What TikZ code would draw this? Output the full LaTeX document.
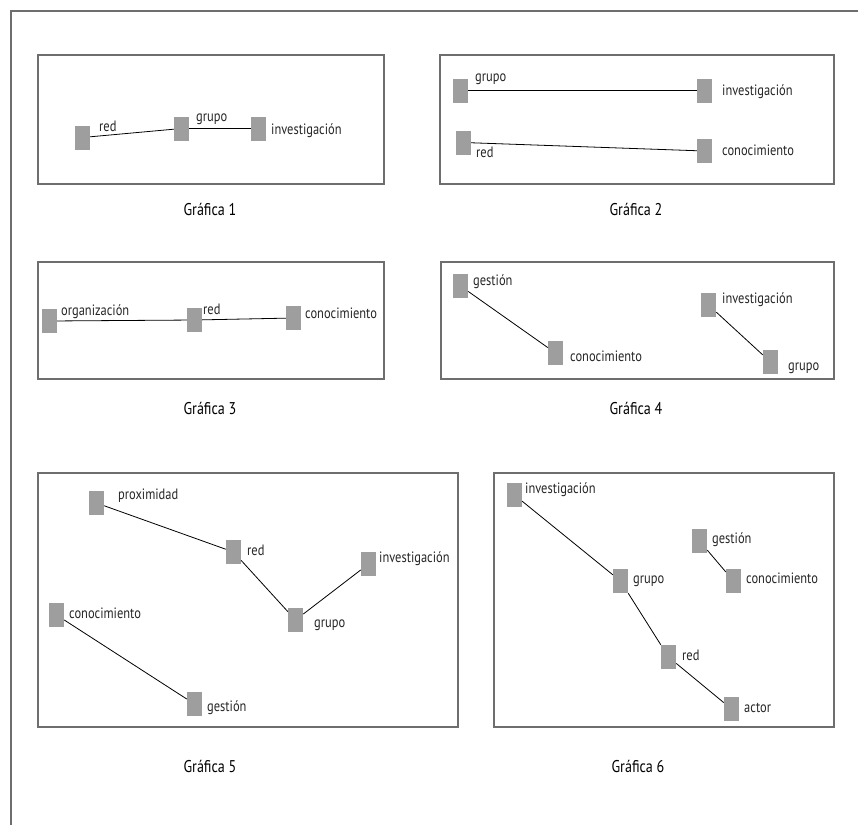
\documentclass[tikz,border=0pt]{standalone}
\usepackage{fontspec}
\setmainfont{PT Sans}[FakeStretch=0.83]
\definecolor{boxgray}{HTML}{6E6E6E}
\definecolor{sqgray}{HTML}{9E9E9E}
\definecolor{txtgray}{HTML}{262626}
\begin{document}
\begin{tikzpicture}[x=1pt,y=-1pt,
  sq/.style={fill=sqgray,minimum width=15pt,minimum height=24pt,inner sep=0pt},
  lbl/.style={anchor=base west,inner sep=0pt,text=txtgray,font=\fontsize{15}{15}\selectfont},
  caption/.style={anchor=base,inner sep=0pt,font=\fontsize{17}{17}\selectfont},
  gbox/.style={draw=boxgray,line width=1.3pt},
  link/.style={draw=black,line width=0.8pt}]
\useasboundingbox (0,0) rectangle (858,825);
\draw [boxgray,line width=1.8pt] (11,825) -- (11,11) -- (858,11);

% grafica 1
\draw [gbox] (38,55) rectangle (384,184);
\node [sq] (g1red) at (82.5,137.5) {};
\node [sq] (g1grupo) at (181.5,128.5) {};
\node [sq] (g1inv) at (258.5,128.5) {};
\node [lbl] (t1red) at (99,131) {red};
\node [lbl] (t1grupo) at (196,121) {grupo};
\node [lbl] (t1inv) at (271,134) {investigación};
\draw [link] (g1red) -- (g1grupo) -- (g1inv);
\node [caption] (c1) at (210,215) {Gráfica 1};

% grafica 2
\draw [gbox] (440,55) rectangle (834,184);
\node [sq] (g2grupo) at (460.5,90.5) {};
\node [sq] (g2inv) at (704.5,90.5) {};
\node [sq] (g2red) at (463.5,142.5) {};
\node [sq] (g2con) at (704.5,151) {};
\node [lbl] (t2grupo) at (475,81) {grupo};
\node [lbl] (t2inv) at (722,95) {investigación};
\node [lbl] (t2red) at (476,157) {red};
\node [lbl] (t2con) at (722,155) {conocimiento};
\draw [link] (g2grupo) -- (g2inv);
\draw [link] (g2red) -- (g2con);
\node [caption] (c2) at (636,215) {Gráfica 2};

% grafica 3
\draw [gbox] (38,262) rectangle (384,379);
\node [sq] (g3org) at (49.5,321) {};
\node [sq] (g3red) at (194.5,320) {};
\node [sq] (g3con) at (293.5,318) {};
\node [lbl] (t3org) at (61,315) {organización};
\node [lbl] (t3red) at (203,314) {red};
\node [lbl] (t3con) at (305,318) {conocimiento};
\draw [link] (g3org) -- (g3red) -- (g3con);
\node [caption] (c3) at (210,414) {Gráfica 3};

% grafica 4
\draw [gbox] (441,262) rectangle (834,379);
\node [sq] (g4ges) at (460.5,286) {};
\node [sq] (g4con) at (555.5,353) {};
\node [sq] (g4inv) at (708.5,305) {};
\node [sq] (g4grupo) at (770.5,362) {};
\node [lbl] (t4ges) at (473,285) {gestión};
\node [lbl] (t4con) at (570,361) {conocimiento};
\node [lbl] (t4inv) at (722,303) {investigación};
\node [lbl] (t4grupo) at (788,370) {grupo};
\draw [link] (g4ges) -- (g4con);
\draw [link] (g4inv) -- (g4grupo);
\node [caption] (c4) at (636,414) {Gráfica 4};

% grafica 5
\draw [gbox] (38,473) rectangle (458,727);
\node [sq] (g5prox) at (96.5,503) {};
\node [sq] (g5red) at (233.5,552) {};
\node [sq] (g5inv) at (368.5,564) {};
\node [sq] (g5con) at (56.5,615) {};
\node [sq] (g5grupo) at (295.5,620) {};
\node [sq] (g5ges) at (194.5,704) {};
\node [lbl] (t5prox) at (118,499) {proximidad};
\node [lbl] (t5red) at (247,555) {red};
\node [lbl] (t5inv) at (379,562) {investigación};
\node [lbl] (t5con) at (69,618) {conocimiento};
\node [lbl] (t5grupo) at (314,627) {grupo};
\node [lbl] (t5ges) at (207,711) {gestión};
\draw [link] (g5prox) -- (g5red) -- (g5grupo) -- (g5inv);
\draw [link] (g5con) -- (g5ges);
\node [caption] (c5) at (210,772) {Gráfica 5};

% grafica 6
\draw [gbox] (494,473) rectangle (834,727);
\node [sq] (g6inv) at (514.5,495) {};
\node [sq] (g6grupo) at (620.5,581) {};
\node [sq] (g6ges) at (699.5,541) {};
\node [sq] (g6con) at (733.5,581) {};
\node [sq] (g6red) at (668.5,657) {};
\node [sq] (g6actor) at (731.5,709) {};
\node [lbl] (t6inv) at (525,493) {investigación};
\node [lbl] (t6grupo) at (633,583) {grupo};
\node [lbl] (t6ges) at (712,543) {gestión};
\node [lbl] (t6con) at (746,583) {conocimiento};
\node [lbl] (t6red) at (682,660) {red};
\node [lbl] (t6actor) at (744,712) {actor};
\draw [link] (g6inv) -- (g6grupo) -- (g6red) -- (g6actor);
\draw [link] (g6ges) -- (g6con);
\node [caption] (c6) at (638,772) {Gráfica 6};
\end{tikzpicture}
\end{document}
